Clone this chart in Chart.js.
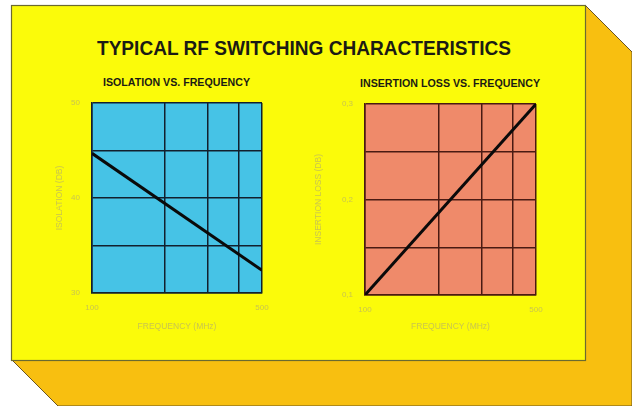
<!DOCTYPE html>
<html>
<head>
<meta charset="utf-8">
<script src="https://cdn.jsdelivr.net/npm/chart.js@4"></script>
<style>
  html, body { margin: 0; padding: 0; background: #fff; }
  #stage { position: relative; width: 632px; height: 406px; overflow: hidden; }
  #card { position: absolute; left: 0; top: 0; }
  .fit {
    position: absolute; white-space: nowrap; transform-origin: 0 50%;
    font-family: "Liberation Sans", "DejaVu Sans", sans-serif;
    font-weight: bold; color: #1b1b14; line-height: 1;
  }
  #main-title { font-size: 21px; }
  .sub { font-size: 10px; }
  canvas { position: absolute; }
</style>
</head>
<body>
<div id="stage">
  <svg id="card" width="632" height="406">
    <polygon points="585,5 632,52 632,406 58,406 12,360 585,360" fill="#f8bf10" stroke="#6b5420" stroke-width="1"/>
    <rect x="11.5" y="5.5" width="574" height="355" fill="#fbfb0a" stroke="#6b6a30" stroke-width="1.2"/>
  </svg>
  <span id="main-title" class="fit" data-left="97" data-width="414" data-cy="47">TYPICAL RF SWITCHING CHARACTERISTICS</span>
  <span class="fit sub" data-left="103" data-width="147" data-cy="83">ISOLATION VS. FREQUENCY</span>
  <span class="fit sub" data-left="360" data-width="180" data-cy="84">INSERTION LOSS VS. FREQUENCY</span>
  <canvas id="chart-isolation" width="240" height="270" style="left:40px;top:70px"></canvas>
  <canvas id="chart-loss" width="260" height="270" style="left:300px;top:70px"></canvas>
</div>
<script>
// Typical RF switching characteristics: two log-frequency plots side by side.

const freqMHz = [100, 500];
const isolationDb = [44.7, 32.4];
const insertionLossDb = [0.1, 0.3];

const freqTicks = [100, 200, 300, 400, 500];
const freqLabels = [100, 500];
const isolationTicks = [30, 35, 40, 45, 50];
const isolationLabels = [30, 40, 50];
const lossTicks = [0.1, 0.15, 0.2, 0.25, 0.3];
const lossLabels = [0.1, 0.2, 0.3];

const FAINT = "#c9c54e";
const FONT = "'Liberation Sans', 'DejaVu Sans', sans-serif";

// Squeeze the condensed-looking headings into the width they take in the original.
document.querySelectorAll(".fit").forEach(el => {
  const r = el.getBoundingClientRect();
  const sx = Number(el.dataset.width) / r.width;
  el.style.left = el.dataset.left + "px";
  el.style.top = (Number(el.dataset.cy) - r.height / 2) + "px";
  el.style.transform = `scaleX(${sx})`;
});

// Fills the plot area before the grid is drawn.
const plotBg = {
  id: "plotBg",
  beforeDraw(chart, args, opts) {
    const { ctx, chartArea: a } = chart;
    ctx.save();
    ctx.fillStyle = opts.color;
    ctx.fillRect(a.left, a.top, a.right - a.left, a.bottom - a.top);
    ctx.restore();
  },
};

function makeChart(canvasId, cfg) {
  const points = freqMHz.map((f, i) => ({ x: f, y: cfg.values[i] }));
  return new Chart(document.getElementById(canvasId), {
    type: "line",
    data: {
      datasets: [{
        data: points,
        borderColor: "#0a0a0a",
        borderWidth: 3,
        pointRadius: 0,
        tension: 0,
      }],
    },
    options: {
      responsive: false,
      animation: false,
      layout: { padding: { top: cfg.area.top, right: cfg.area.right, left: 0, bottom: 0 } },
      plugins: {
        legend: { display: false },
        tooltip: { enabled: false },
        plotBg: { color: cfg.bg },
      },
      scales: {
        x: {
          type: "logarithmic",
          min: 100, max: 500,
          afterBuildTicks: s => { s.ticks = freqTicks.map(v => ({ value: v })); },
          afterFit: s => { s.height = cfg.area.xHeight; },
          grid: { color: cfg.grid, lineWidth: 1.5, drawTicks: false },
          border: { color: cfg.grid, width: 1.5 },
          ticks: {
            color: FAINT, padding: 10, maxRotation: 0, autoSkip: false,
            font: { family: FONT, size: 8 },
            callback: v => freqLabels.includes(v) ? String(v) : "",
          },
          title: {
            display: true, text: "FREQUENCY (MHz)", color: FAINT,
            font: { family: FONT, size: 8.5 }, padding: { top: 0, bottom: 8 },
          },
        },
        y: {
          min: cfg.ticks[0], max: cfg.ticks[cfg.ticks.length - 1],
          afterBuildTicks: s => { s.ticks = cfg.ticks.map(v => ({ value: v })); },
          afterFit: s => { s.width = cfg.area.yWidth; },
          grid: { color: cfg.grid, lineWidth: 1.5, drawTicks: false },
          border: { color: cfg.grid, width: 1.5 },
          ticks: {
            color: FAINT, padding: 12, autoSkip: false,
            font: { family: FONT, size: 8 },
            callback: v => cfg.labels.includes(v) ? cfg.fmt(v) : "",
          },
          title: {
            display: true, text: cfg.yTitle, color: FAINT,
            font: { family: FONT, size: 8.5 }, padding: { top: cfg.area.yTitlePad, bottom: 0 },
          },
        },
      },
    },
    plugins: [plotBg],
  });
}

makeChart("chart-isolation", {
  values: isolationDb,
  ticks: isolationTicks,
  labels: isolationLabels,
  fmt: v => String(v),
  yTitle: "ISOLATION (DB)",
  bg: "#46c3e6",
  grid: "#12202e",
  area: { top: 33, right: 18, xHeight: 47, yWidth: 52, yTitlePad: 15 },
});

makeChart("chart-loss", {
  values: insertionLossDb,
  ticks: lossTicks,
  labels: lossLabels,
  fmt: v => v.toFixed(1).replace(".", ","),
  yTitle: "INSERTION LOSS (DB)",
  bg: "#ef8a6a",
  grid: "#4a1a12",
  area: { top: 34, right: 24, xHeight: 45, yWidth: 65, yTitlePad: 14 },
});
</script>
</body>
</html>
